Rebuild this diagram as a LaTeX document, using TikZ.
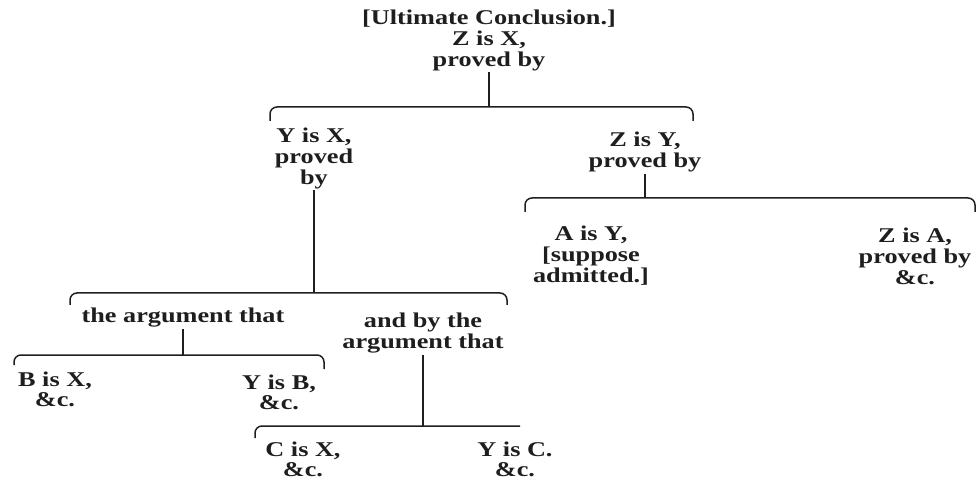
\documentclass[tikz,border=0pt]{standalone}
\usepackage{fontspec}
\setmainfont{Liberation Serif}[FakeStretch=1.25]
\usepackage{xcolor}
\definecolor{cInk}{HTML}{1E1E1E}
\usepackage{tikz}
\tikzset{
  node-txt/.style={align=center,text=cInk,inner sep=1.5pt,
    font=\fontsize{21}{21}\selectfont\bfseries},
  node-tight/.style={font=\fontsize{21}{20}\selectfont\bfseries},
  line-stem/.style={draw=cInk,line width=1.5pt},
  line-brace/.style={draw=cInk,line width=1.5pt,rounded corners=7pt},
}

\begin{document}
\begin{tikzpicture}[x=1pt,y=-1pt]
  \useasboundingbox (0,0) rectangle (977,486);
  \node[node-txt] (zx)   at (489,40)  {[Ultimate Conclusion.]\\Z is X,\\proved by};
  \node[node-txt] (yx)   at (314,158) {Y is X,\\proved\\by};
  \node[node-txt] (zy)   at (645,152) {Z is Y,\\proved by};
  \node[node-txt] (ay)   at (591,256) {A is Y,\\{[}suppose\\admitted.{]}};
  \node[node-txt] (za)   at (915,256) {Z is A,\\proved by\\\&c.};
  \node[node-txt] (arg1) at (183,318) {the argument that};
  \node[node-txt] (arg2) at (423,333) {and by the\\argument that};
  \node[node-txt,node-tight] (bx) at (55,389)  {B is X,\\\&c.};
  \node[node-txt,node-tight] (yb) at (279,392) {Y is B,\\\&c.};
  \node[node-txt,node-tight] (cx) at (303,459) {C is X,\\\&c.};
  \node[node-txt,node-tight] (yc) at (515,459) {Y is C.\\\&c.};
  % brace ends
  \coordinate (b1w) at (270,107); \coordinate (b1e) at (693,107);
  \coordinate (b2w) at (525,198); \coordinate (b2e) at (975,198);
  \coordinate (b3w) at (70,293);  \coordinate (b3e) at (507,293);
  \coordinate (b4w) at (14,355);  \coordinate (b4e) at (324,355);
  \coordinate (b5w) at (255,426); \coordinate (b5e) at (520,426);
  \draw[line-brace] ([yshift=-14pt]b1w) -- (b1w) -- (b1e) -- ([yshift=-14pt]b1e);
  \draw[line-brace] ([yshift=-14pt]b2w) -- (b2w) -- (b2e) -- ([yshift=-14pt]b2e);
  \draw[line-brace] ([yshift=-12pt]b3w) -- (b3w) -- (b3e) -- ([yshift=-12pt]b3e);
  \draw[line-brace] ([yshift=-10pt]b4w) -- (b4w) -- (b4e) -- ([yshift=-14pt]b4e);
  \draw[line-brace] ([yshift=-12pt]b5w) -- (b5w) -- (b5e);
  % stems
  \draw[line-stem] (zx)   -- (zx |- b1w);
  \draw[line-stem] (yx)   -- (yx |- b3w);
  \draw[line-stem] (zy)   -- (zy |- b2w);
  \draw[line-stem] (arg1) -- (arg1 |- b4w);
  \draw[line-stem] (arg2) -- (arg2 |- b5w);
\end{tikzpicture}
\end{document}
